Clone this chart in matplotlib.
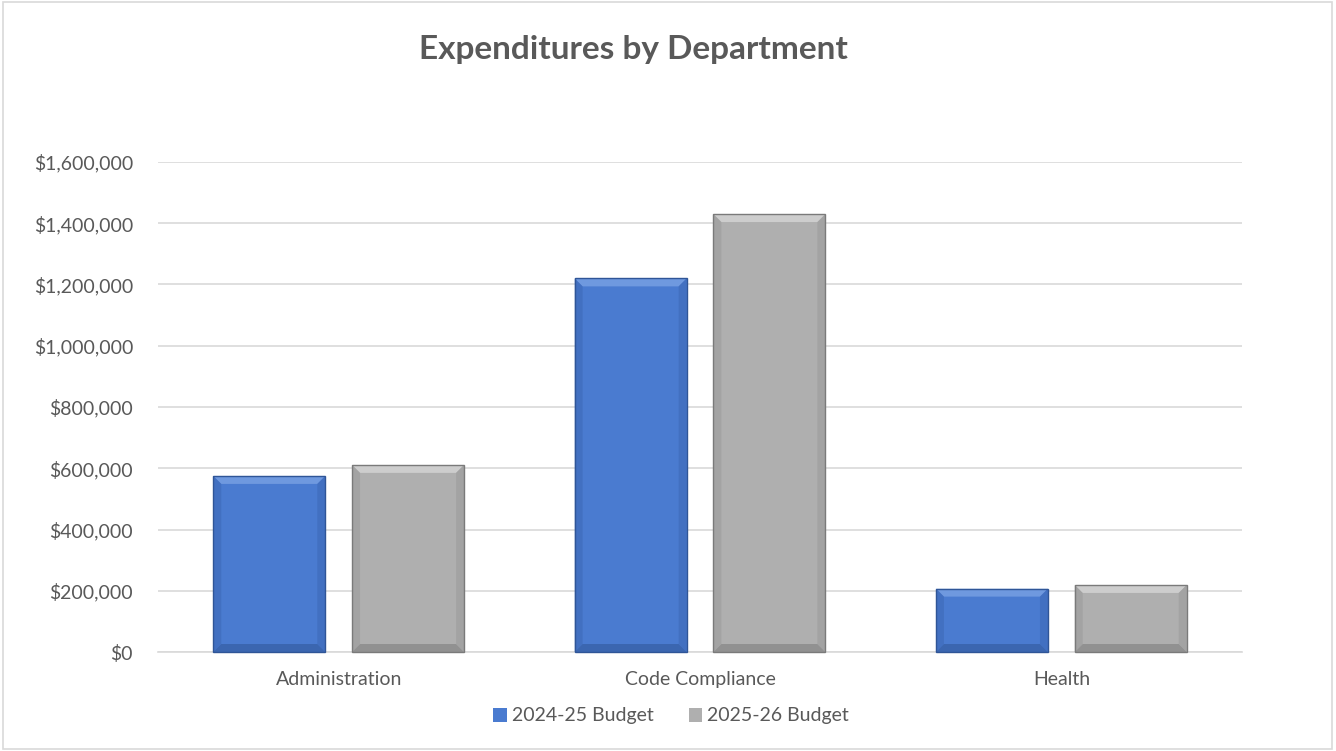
import numpy as np
import matplotlib
matplotlib.use("Agg")
import matplotlib.pyplot as plt
from matplotlib.patches import Polygon, Rectangle
from matplotlib.ticker import FuncFormatter

# data
departments = ["Administration", "Code Compliance", "Health"]
budget_2425 = [575000, 1220000, 207000]
budget_2526 = [611000, 1430000, 219000]
series_names = ["2024-25 Budget", "2025-26 Budget"]
y_ticks = [0, 200000, 400000, 600000, 800000, 1000000, 1200000, 1400000, 1600000]

plt.rcParams['font.family'] = ['Lato', 'DejaVu Sans']
txt = '#595959'

fig = plt.figure(figsize=(13.36, 7.51), dpi=100)
ax = fig.add_axes([158/1336, 1 - 652/751, 1084/1336, 490/751])

x = np.arange(len(departments))
w = 0.31
gap = 0.074
b1 = ax.bar(x - (w + gap) / 2, budget_2425, w, color='#4a7bd0', label=series_names[0], zorder=3)
b2 = ax.bar(x + (w + gap) / 2, budget_2526, w, color='#afafaf', label=series_names[1], zorder=3)

ax.set_xlim(-0.5, 2.5)
ax.set_ylim(0, 1600000)
ax.set_yticks(y_ticks)
ax.yaxis.set_major_formatter(FuncFormatter(lambda v, p: '${:,.0f}'.format(v)))
ax.set_xticks(x)
ax.set_xticklabels(departments)
ax.tick_params(axis='both', length=0, labelsize=14, colors=txt)
ax.tick_params(axis='y', pad=18)
ax.tick_params(axis='x', pad=14)
ax.grid(axis='y', color='#d9d9d9', linewidth=1.2, zorder=0)
for s in ['top', 'right', 'left']:
    ax.spines[s].set_visible(False)
ax.spines['bottom'].set_color('#d9d9d9')
ax.spines['bottom'].set_linewidth(1.2)

# bevel effect on bars, built from each bar's own geometry in pixels
fig.canvas.draw()
def bevel(bars, light, dark, side):
    for p in bars:
        (x0, y0), (x1, y1) = p.get_window_extent().get_points()
        d = 8
        pts = [
            ([(x0, y1), (x1, y1), (x1 - d, y1 - d), (x0 + d, y1 - d)], light),
            ([(x0, y0), (x1, y0), (x1 - d, y0 + d), (x0 + d, y0 + d)], dark),
            ([(x1, y0), (x1, y1), (x1 - d, y1 - d), (x1 - d, y0 + d)], side),
            ([(x0, y0), (x0, y1), (x0 + d, y1 - d), (x0 + d, y0 + d)], side),
        ]
        for poly, c in pts:
            fig.patches.append(Polygon(poly, closed=True, facecolor=c, edgecolor='none',
                                       alpha=0.55, transform=None, zorder=4))
        fig.patches.append(Rectangle((x0, y0), x1 - x0, y1 - y0, fill=False,
                                     edgecolor=dark, linewidth=1.0, transform=None, zorder=5))

bevel(b1, '#8fb2ec', '#2f5597', '#3d68b5')
bevel(b2, '#e6e6e6', '#7a7a7a', '#9a9a9a')

fig.text(633/1336, 1 - 50/751, 'Expenditures by Department', ha='center', va='center',
         fontsize=24, fontweight='bold', color=txt)

leg = fig.legend(handles=[b1, b2], loc='center', bbox_to_anchor=(671/1336, 1 - 716/751),
                 ncol=2, frameon=False, fontsize=14, handlelength=0.7, handleheight=0.7,
                 handletextpad=0.25, columnspacing=1.8, labelcolor=txt)

fig.patches.append(Rectangle((0.002, 0.003), 0.995, 0.994, fill=False, edgecolor='#d9d9d9',
                             linewidth=1.2, transform=fig.transFigure))

fig.savefig('out.png', dpi=100)
